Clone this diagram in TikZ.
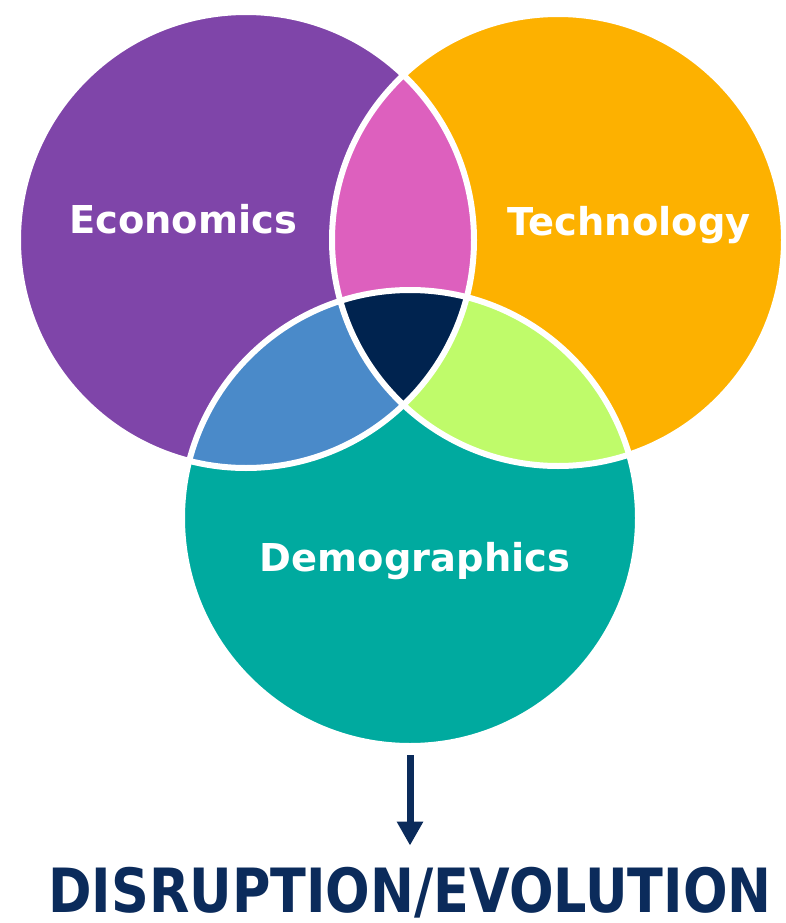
\documentclass[tikz,border=0pt]{standalone}
\usepackage{fontspec}
\setmainfont{DejaVu Sans}
\usetikzlibrary{arrows.meta}

\definecolor{ecopurple}{HTML}{7F45A9}
\definecolor{techorange}{HTML}{FDB100}
\definecolor{demoteal}{HTML}{00AA9F}
\definecolor{etpink}{HTML}{DD60BE}
\definecolor{edblue}{HTML}{4A8AC9}
\definecolor{tdlime}{HTML}{BFFB6A}
\definecolor{corenavy}{HTML}{00234F}
\definecolor{inknavy}{HTML}{0B2B5B}

\tikzset{
  setdisc/.style={circle, inner sep=0pt, minimum size=#1},
  setname/.style={text=white, anchor=base,
    font=\fontsize{38.4}{44}\selectfont\bfseries},
  rim/.style={draw=white, line width=6pt},
}

\begin{document}
\begin{tikzpicture}[x=1pt, y=-1pt]
  \useasboundingbox (0,0) rectangle (785,923);

  % --- the three sets ---
  \node[setdisc=456pt, fill=ecopurple]  (econ) at (246,240) {};
  \node[setdisc=452pt, fill=techorange] (tech) at (558,240) {};
  \node[setdisc=456pt, fill=demoteal]   (demo) at (410,518) {};

  % --- pairwise overlaps ---
  \begin{scope}
    \clip (econ.center) circle (228pt);
    \fill[etpink] (tech.center) circle (226pt);
  \end{scope}
  \begin{scope}
    \clip (econ.center) circle (228pt);
    \fill[edblue] (demo.center) circle (228pt);
  \end{scope}
  \begin{scope}
    \clip (tech.center) circle (226pt);
    \fill[tdlime] (demo.center) circle (228pt);
  \end{scope}

  % --- all three ---
  \begin{scope}
    \clip (econ.center) circle (228pt);
    \clip (tech.center) circle (226pt);
    \fill[corenavy] (demo.center) circle (228pt);
  \end{scope}

  % --- white rims ---
  \draw[rim] (econ.center) circle (228pt);
  \draw[rim] (tech.center) circle (226pt);
  \draw[rim] (demo.center) circle (228pt);

  % --- labels ---
  \node[setname] (econlbl) at (183,233) {Economics};
  \node[setname] (techlbl) at (629,235) {Technology};
  \node[setname] (demolbl) at (415,571) {Demographics};

  % narrowed caps line
  \path (410,912) node[anchor=base, inner sep=0pt, text=inknavy,
    xscale=0.86, transform shape,
    font=\bfseries\fontsize{61}{70}\selectfont]
    (outcome) {DISRUPTION/EVOLUTION};

  % --- arrow down to the outcome ---
  \draw[inknavy, line width=7pt, -{Triangle[width=25pt, length=24pt]},
    shorten <=9pt, shorten >=21pt] (demo.south) -- (demo.south |- outcome.north);

\end{tikzpicture}
\end{document}
